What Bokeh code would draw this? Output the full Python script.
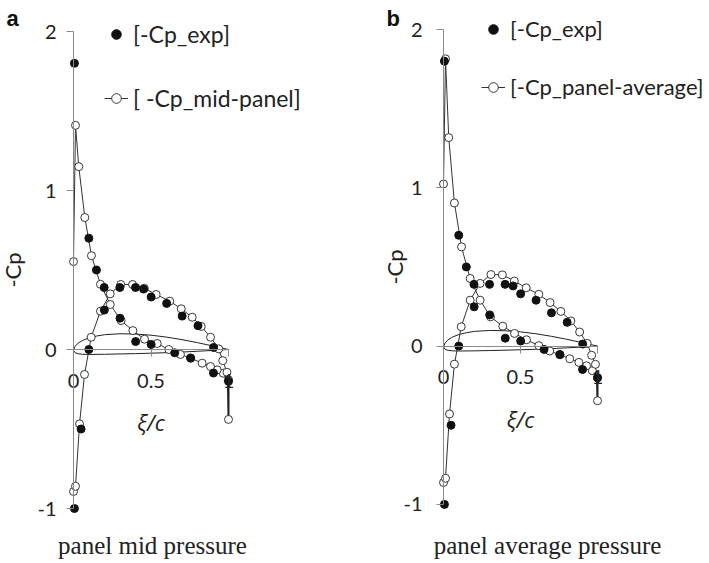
from bokeh.plotting import figure
from bokeh.models import Range1d, FixedTicker, Legend, LegendItem, Label
from bokeh.layouts import row
from bokeh.embed import file_html
from bokeh.resources import INLINE

# ---------------- data ----------------
x_ticks = [0, 0.5, 1]
y_ticks = [-1, 0, 1, 2]

# experimental -Cp (same in both panels)
xi_exp = [0.006, 0.099, 0.148, 0.198, 0.299, 0.400, 0.452, 0.501, 0.601, 0.701, 0.803, 0.904, 1.000,
          0.006, 0.049, 0.099, 0.199, 0.300, 0.401, 0.501, 0.653, 0.755, 0.903]
cp_exp = [1.80, 0.70, 0.50, 0.39, 0.39, 0.39, 0.38, 0.33, 0.29, 0.21, 0.15, 0.013, -0.20,
          -1.00, -0.50, 0.00, 0.248, 0.197, 0.05, 0.032, -0.021, -0.053, -0.148]

# panel a: -Cp at panel mid points (trailing edge -> leading edge -> trailing edge)
xi_mid = [1.000, 0.966, 0.927, 0.884, 0.830, 0.757, 0.690, 0.615, 0.540, 0.458, 0.383, 0.307, 0.237,
          0.174, 0.116, 0.073, 0.034, 0.013, 0.000, 0.000, 0.013, 0.039, 0.071, 0.114, 0.174, 0.237,
          0.305, 0.381, 0.457, 0.533, 0.621, 0.695, 0.766, 0.824, 0.884, 0.937, 0.963, 0.990, 1.000]
cp_mid = [-0.19, -0.149, -0.128, -0.107, -0.086, -0.055, -0.031, 0.000, 0.038, 0.065, 0.119, 0.182, 0.283,
          0.41, 0.59, 0.83, 1.15, 1.41, 0.553, -0.893, -0.86, -0.468, -0.157, 0.077, 0.241, 0.350,
          0.409, 0.409, 0.385, 0.346, 0.304, 0.256, 0.203, 0.145, 0.077, 0.004, -0.070, -0.143, -0.44]

# panel b: panel-averaged -Cp
xi_avg = [1.000, 0.966, 0.929, 0.879, 0.820, 0.757, 0.690, 0.619, 0.539, 0.461, 0.385, 0.305, 0.238,
          0.173, 0.117, 0.071, 0.034, 0.013, 0.000, 0.000, 0.013, 0.039, 0.071, 0.115, 0.173, 0.238,
          0.308, 0.382, 0.460, 0.537, 0.619, 0.692, 0.762, 0.827, 0.884, 0.933, 0.962, 0.987, 1.000]
cp_avg = [-0.20, -0.155, -0.124, -0.103, -0.080, -0.055, -0.031, 0.003, 0.040, 0.080, 0.126, 0.185, 0.290,
          0.427, 0.627, 0.904, 1.317, 1.815, 1.024, -0.862, -0.835, -0.429, -0.114, 0.122, 0.290, 0.396,
          0.452, 0.450, 0.411, 0.368, 0.327, 0.275, 0.219, 0.159, 0.089, 0.017, -0.058, -0.115, -0.345]

# hydrofoil outline
foil_x = [1.0, 0.9, 0.8, 0.7, 0.6, 0.5, 0.4, 0.3, 0.2, 0.15, 0.1, 0.06, 0.03, 0.01, 0.0,
          0.01, 0.03, 0.06, 0.1, 0.2, 0.3, 0.4, 0.5, 0.6, 0.7, 0.8, 0.9, 1.0]
foil_y = [0.0, 0.022, 0.043, 0.062, 0.078, 0.090, 0.097, 0.099, 0.093, 0.085, 0.073, 0.058, 0.040, 0.020, -0.005,
          -0.020, -0.027, -0.030, -0.031, -0.030, -0.028, -0.026, -0.023, -0.020, -0.016, -0.011, -0.006, 0.0]

H = 560


def make_panel(width, x0px, xs, y2px, ys, letter, letter_x, caption, cap_x,
               xi_cp, cp_cp, label_cp, leg_loc, leg_spacing, leg_font,
               tick_standoff, lab_standoff):
    xr = Range1d(-x0px / xs, (width - x0px) / xs)
    ytop = 2 + y2px / ys
    yr = Range1d(ytop - H / ys, ytop)
    p = figure(width=width, height=H, x_range=xr, y_range=yr, output_backend="svg",
               toolbar_location=None, title=None)
    p.min_border_left = 0
    p.min_border_right = 0
    p.min_border_top = 0
    p.min_border_bottom = 0
    p.outline_line_color = None
    p.xgrid.visible = False
    p.ygrid.visible = False

    xa = p.xaxis[0]
    ya = p.yaxis[0]
    for ax in (xa, ya):
        ax.fixed_location = 0
        ax.axis_line_color = "#8a8a8a"
        ax.major_tick_line_color = "#8a8a8a"
        ax.minor_tick_line_color = None
        ax.major_tick_in = 0
        ax.major_tick_out = 7
        ax.major_label_text_font = "Lato"
        ax.major_label_text_font_size = "20px"
        ax.major_label_text_color = "#222222"
        ax.axis_label_text_color = "#222222"
        ax.axis_label_text_font_size = "22px"
    xa.ticker = FixedTicker(ticks=x_ticks)
    xa.bounds = (min(x_ticks), max(x_ticks))
    xa.major_label_overrides = {0: "0", 0.5: "0.5", 1: "1"}
    xa.major_label_standoff = 17
    xa.axis_label = "ξ/c"
    xa.axis_label_text_font = "Open Sans"
    xa.axis_label_text_font_style = "italic"
    xa.axis_label_standoff = 16

    ya.ticker = FixedTicker(ticks=y_ticks)
    ya.bounds = (min(y_ticks), max(y_ticks))
    ya.major_label_overrides = {-1: "-1", 0: "0", 1: "1", 2: "2"}
    ya.major_label_standoff = tick_standoff
    ya.axis_label = "-Cp"
    ya.axis_label_text_font = "Lato"
    ya.axis_label_text_font_style = "normal"
    ya.axis_label_standoff = lab_standoff

    p.line(foil_x, foil_y, line_color="#222222", line_width=1)
    lr = p.line(xi_cp, cp_cp, line_color="#333333", line_width=1)
    p.segment(x0=[xi_cp[0]], y0=[cp_cp[0]], x1=[xi_cp[-1]], y1=[cp_cp[-1]],
              line_color="#222222", line_width=2)
    cr = p.scatter(xi_cp, cp_cp, marker="circle", size=8, fill_color="white",
                   line_color="#222222", line_width=0.9)
    er = p.scatter(xi_exp, cp_exp, marker="circle", size=8, fill_color="#111111",
                   line_color="#111111")

    leg = Legend(items=[LegendItem(label="[-Cp_exp]", renderers=[er]),
                        LegendItem(label=label_cp, renderers=[lr, cr])],
                 location=leg_loc, orientation="vertical", spacing=leg_spacing,
                 padding=0, margin=0, glyph_width=24, glyph_height=26, label_height=26,
                 label_standoff=5, label_text_font="Lato", label_text_font_size=leg_font,
                 label_text_color="#222222", border_line_color=None,
                 background_fill_alpha=0)
    p.add_layout(leg)

    p.add_layout(Label(x=letter_x, y=H - 18, x_units="screen", y_units="screen", text=letter,
                       text_font="Liberation Sans", text_font_style="bold",
                       text_font_size="22px", text_baseline="alphabetic",
                       text_align="left", text_color="#111111"))
    p.add_layout(Label(x=cap_x, y=H - 545, x_units="screen", y_units="screen", text=caption,
                       text_font="Liberation Serif", text_font_size="25px",
                       text_baseline="alphabetic", text_align="center",
                       text_color="#222222"))
    return p


pa = make_panel(358, 73, 155.0, 31, 159.0, "a", 6, "panel mid pressure", 152,
                xi_mid, cp_mid, "[ -Cp_mid-panel]", (104, H - 112), 36, "23px", 10, 8)
pb = make_panel(351, 85, 154.0, 29, 158.3, "b", 28, "panel average pressure", 189,
                xi_avg, cp_avg, "[-Cp_panel-average]", (123, H - 100), 31, "22px", 14, -8)

layout = row(pa, pb)
open("out.html", "w").write(file_html(layout, INLINE))
